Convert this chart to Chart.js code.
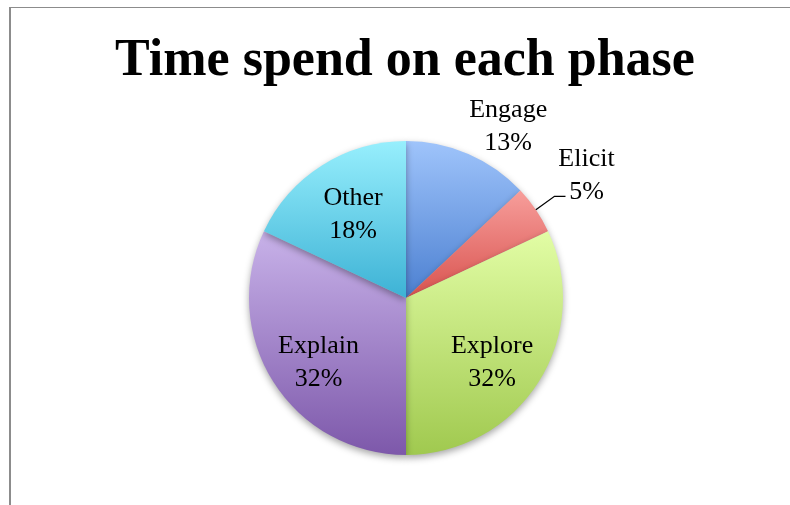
<!DOCTYPE html>
<html>
<head>
<meta charset="utf-8">
<script src="https://cdn.jsdelivr.net/npm/chart.js@4.4.1/dist/chart.umd.min.js"></script>
<style>
  html, body { margin: 0; padding: 0; background: #fff; }
  #wrap { position: relative; width: 790px; height: 505px; overflow: hidden; }
  #frame { position: absolute; left: 9px; top: 7px; width: 800px; height: 520px;
           border-left: 2px solid #8c8c8c; border-top: 1px solid #8c8c8c; }
  canvas { position: absolute; left: 0; top: 0; }
</style>
</head>
<body>
<div id="wrap">
  <div id="frame"></div>
  <canvas id="pieChart" width="790" height="505"></canvas>
</div>
<script>
// slice data, clockwise from 12 o'clock
const chartTitle = 'Time spend on each phase';
const phases = ['Engage', 'Elicit', 'Explore', 'Explain', 'Other'];
const percentages = [13, 5, 32, 32, 18];

// gradient colours per slice (top -> bottom)
const topColors = ['#9fc4fb', '#f79e9b', '#e2fda5', '#c8b2e9', '#97effd'];
const bottomColors = ['#4c80d1', '#d9534f', '#a0c94f', '#7d58aa', '#3db2d5'];

// label placement: [radius factor, dx, dy]
const labelPlacement = [[1.27, 23, 12], [1.39, 0, 0], [0.68, -4, 7], [0.69, 4, 7], [0.63, 0, 0]];

const gradCache = {};

function sliceGradient(ctx) {
  const chart = ctx.chart;
  const area = chart.chartArea;
  if (!area) return topColors[ctx.dataIndex];
  const i = ctx.dataIndex;
  const cx = (area.left + area.right) / 2;
  const cy = (area.top + area.bottom) / 2;
  const r = Math.min(area.right - area.left, area.bottom - area.top) / 2;
  const total = percentages.reduce((a, b) => a + b, 0);
  let before = 0;
  for (let k = 0; k < i; k++) before += percentages[k];
  const a0 = -Math.PI / 2 + before / total * Math.PI * 2;
  const a1 = a0 + percentages[i] / total * Math.PI * 2;
  // vertical extent of the slice
  let ys = [cy, cy + r * Math.sin(a0), cy + r * Math.sin(a1)];
  [Math.PI / 2, -Math.PI / 2, 3 * Math.PI / 2].forEach(function (t) {
    if (t > a0 && t < a1) ys.push(cy + r * Math.sin(t));
  });
  const y0 = Math.min.apply(null, ys), y1 = Math.max.apply(null, ys);
  const key = i + ':' + y0 + ':' + y1;
  if (!gradCache[key]) {
    const g = chart.ctx.createLinearGradient(0, y0, 0, y1);
    g.addColorStop(0, topColors[i]);
    g.addColorStop(1, bottomColors[i]);
    gradCache[key] = g;
  }
  return gradCache[key];
}

const shadowPlugin = {
  id: 'pieShadow',
  beforeDatasetsDraw(chart) {
    const ctx = chart.ctx;
    ctx.save();
    ctx.shadowColor = 'rgba(0,0,0,0.35)';
    ctx.shadowBlur = 7;
    ctx.shadowOffsetY = 3;
  },
  afterDatasetsDraw(chart) {
    chart.ctx.restore();
  }
};

// title drawn by hand so it is not squeezed into the pie's padded box
const titlePlugin = {
  id: 'bigTitle',
  afterDraw(chart) {
    const ctx = chart.ctx;
    ctx.save();
    ctx.font = 'bold 52px "Liberation Serif", serif';
    ctx.fillStyle = '#000';
    ctx.textAlign = 'center';
    ctx.textBaseline = 'alphabetic';
    ctx.fillText(chartTitle, 405, 75);
    ctx.restore();
  }
};

const labelPlugin = {
  id: 'sliceLabels',
  afterDraw(chart) {
    const ctx = chart.ctx;
    const meta = chart.getDatasetMeta(0);
    ctx.save();
    ctx.font = '26px "Liberation Serif", serif';
    ctx.fillStyle = '#000';
    ctx.textAlign = 'center';
    ctx.textBaseline = 'middle';
    meta.data.forEach(function (arc, i) {
      const p = arc.getProps(['x', 'y', 'startAngle', 'endAngle', 'outerRadius'], true);
      const mid = (p.startAngle + p.endAngle) / 2;
      const pl = labelPlacement[i];
      const lx = p.x + Math.cos(mid) * p.outerRadius * pl[0] + pl[1];
      const ly = p.y + Math.sin(mid) * p.outerRadius * pl[0] + pl[2];
      ctx.fillText(phases[i], lx, ly - 16.5);
      ctx.fillText(percentages[i] + '%', lx, ly + 16.5);
      if (phases[i] === 'Elicit') {
        // leader line
        ctx.beginPath();
        ctx.strokeStyle = '#000';
        ctx.lineWidth = 1.3;
        ctx.moveTo(p.x + Math.cos(mid) * p.outerRadius, p.y + Math.sin(mid) * p.outerRadius);
        ctx.lineTo(lx - 32, ly + 21);
        ctx.lineTo(lx - 21, ly + 21);
        ctx.stroke();
      }
    });
    ctx.restore();
  }
};

new Chart(document.getElementById('pieChart'), {
  type: 'pie',
  data: {
    labels: phases,
    datasets: [{
      data: percentages,
      backgroundColor: sliceGradient,
      borderWidth: 0
    }]
  },
  options: {
    responsive: false,
    animation: false,
    layout: { padding: { top: 141, left: 249, right: 227, bottom: 50 } },
    plugins: {
      legend: { display: false },
      tooltip: { enabled: false },
      title: { display: false }
    }
  },
  plugins: [shadowPlugin, titlePlugin, labelPlugin]
});
</script>
</body>
</html>
